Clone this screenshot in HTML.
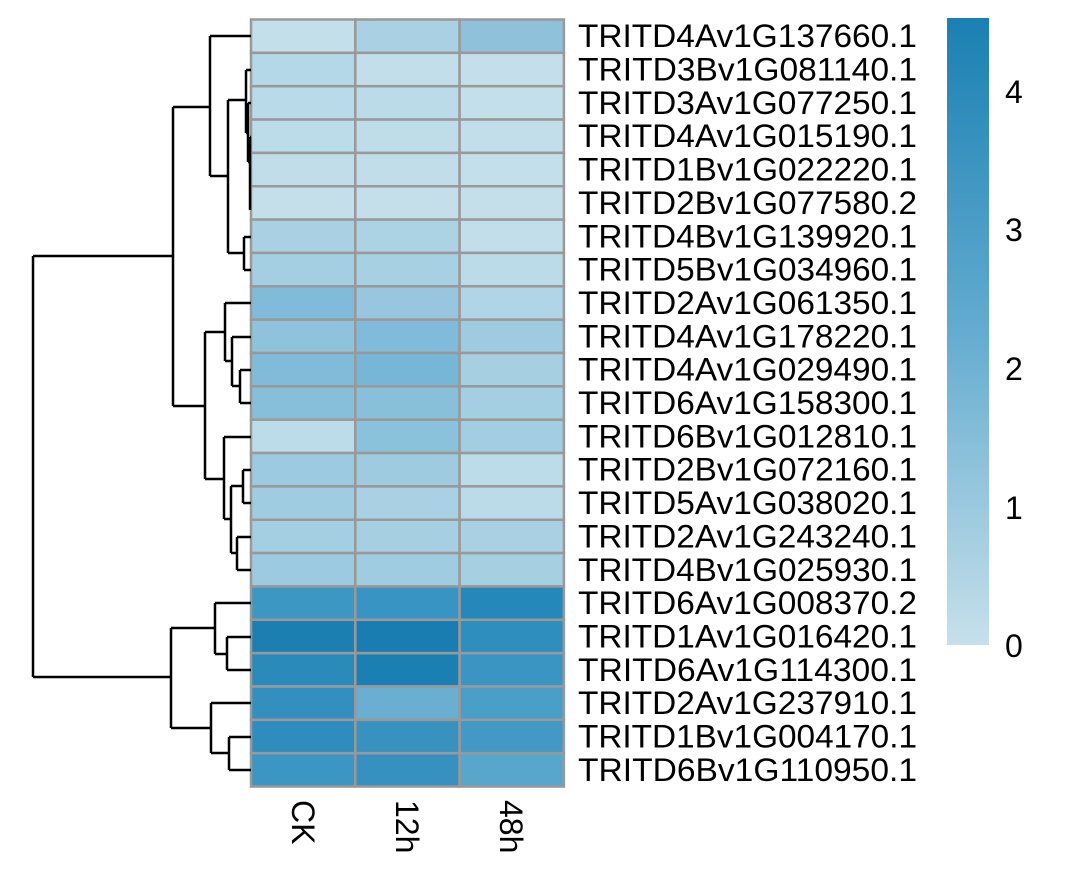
<!DOCTYPE html>
<html><head><style>body{margin:0;background:#fff}svg{display:block}</style></head><body>
<svg width="1066" height="884" xmlns="http://www.w3.org/2000/svg" font-family="Liberation Sans, sans-serif">
<defs><linearGradient id="g" x1="0" y1="1" x2="0" y2="0">
<stop offset="0" stop-color="#c6e0ea"/><stop offset="0.5" stop-color="#64acd0"/><stop offset="1" stop-color="#1a80b2"/></linearGradient></defs>
<g id="cells" stroke="#999" stroke-width="2.5"></g>
<g id="labels" font-size="32"></g>
<g stroke="#000" stroke-width="2.5" fill="none">
<path d="M33,256 V677 M33,256 H173 M33,677 H171"/>
<path d="M173,107 V406 M173,107 H210 M173,406 H205"/>
<path d="M210,36 V176 M210,36 H251 M210,176 H228"/>
<path d="M228,100 V253 M228,100 H246 M228,253 H244"/>
<path d="M246,70 V133 M246,70 H251 M246,133 H248 M248,103 V162 M248,103 H251 M248,162 H250 M250,137 V210 M250,137 H251"/>
<path d="M244,237 V270 M244,237 H251 M244,270 H251"/>
<path d="M205,332 V479 M205,332 H225 M205,479 H224"/>
<path d="M225,303 V361 M225,303 H251 M225,361 H232"/>
<path d="M232,337 V386 M232,337 H251 M232,386 H240"/>
<path d="M240,370 V403 M240,370 H251 M240,403 H251"/>
<path d="M224,437 V519 M224,437 H251 M224,519 H231"/>
<path d="M231,486 V553 M231,486 H243 M231,553 H237"/>
<path d="M243,470 V503 M243,470 H251 M243,503 H251"/>
<path d="M237,537 V570 M237,537 H251 M237,570 H251"/>
<path d="M171,628 V728 M171,628 H215 M171,728 H211"/>
<path d="M215,603 V654 M215,603 H251 M215,654 H227"/>
<path d="M227,637 V670 M227,637 H251 M227,670 H251"/>
<path d="M211,703 V753 M211,703 H251 M211,753 H229"/>
<path d="M229,737 V770 M229,737 H251 M229,770 H251"/>
</g>
<rect x="947" y="18" width="42" height="627" fill="url(#g)"/>
<g font-size="32" fill="#000">
<text x="1005" y="103">4</text><text x="1005" y="241">3</text><text x="1005" y="380">2</text><text x="1005" y="519">1</text><text x="1005" y="657">0</text>
<text transform="translate(292,800) rotate(90)">CK</text>
<text transform="translate(396,800) rotate(90)">12h</text>
<text transform="translate(500,800) rotate(90)">48h</text>
</g>
<script>
var C=[["#c2dfea","#a9d1e3","#8fc2da"],["#b4d8e7","#c1deea","#c4dfea"],["#b9dae8","#bcdbe9","#c3dfea"],["#bcdce9","#bfdde9","#c2deea"],["#c0dde9","#c0dde9","#c3dfea"],["#c4dfea","#c4dfea","#c4dfea"],["#a9d1e3","#acd3e4","#c2deea"],["#a4cfe2","#a7d0e3","#bcdbe8"],["#80bcd9","#97c6de","#b0d5e6"],["#8fc3dc","#80bcd9","#9fcbe0"],["#80bcd9","#76b6d6","#a6cfe2"],["#87bfda","#88c0da","#a4cee2"],["#bcdce9","#8ac1db","#a3cde1"],["#9ccae0","#9fcbe0","#bddce9"],["#a0cce1","#a9d1e3","#bcdbe8"],["#a4cee2","#a6cfe2","#a9d1e3"],["#9ccae0","#a0cce1","#a6cfe2"],["#3c97c3","#3894c2","#2489ba"],["#1c7fb2","#1a7db1","#2e8ebd"],["#2a8bbb","#1a80b3","#3a95c2"],["#338fbf","#6aafd2","#4a9fc9"],["#2f8dbd","#3892c0","#4299c5"],["#3c96c3","#3691c0","#58a6cc"]];
var L=["TRITD4Av1G137660.1","TRITD3Bv1G081140.1","TRITD3Av1G077250.1","TRITD4Av1G015190.1","TRITD1Bv1G022220.1","TRITD2Bv1G077580.2","TRITD4Bv1G139920.1","TRITD5Bv1G034960.1","TRITD2Av1G061350.1","TRITD4Av1G178220.1","TRITD4Av1G029490.1","TRITD6Av1G158300.1","TRITD6Bv1G012810.1","TRITD2Bv1G072160.1","TRITD5Av1G038020.1","TRITD2Av1G243240.1","TRITD4Bv1G025930.1","TRITD6Av1G008370.2","TRITD1Av1G016420.1","TRITD6Av1G114300.1","TRITD2Av1G237910.1","TRITD1Bv1G004170.1","TRITD6Bv1G110950.1"];
var ns="http://www.w3.org/2000/svg",g=document.getElementById("cells"),t=document.getElementById("labels");
var x0=251,cw=104.3,y0=19.5,rh=33.35;
for(var i=0;i<23;i++){for(var j=0;j<3;j++){var r=document.createElementNS(ns,"rect");r.setAttribute("x",x0+j*cw);r.setAttribute("y",y0+i*rh);r.setAttribute("width",cw);r.setAttribute("height",rh);r.setAttribute("fill",C[i][j]);g.appendChild(r);}
var e=document.createElementNS(ns,"text");e.setAttribute("x",578);e.setAttribute("y",y0+i*rh+rh/2+11);e.setAttribute("textLength",339);e.setAttribute("lengthAdjust","spacingAndGlyphs");e.textContent=L[i];t.appendChild(e);}
</script>
</svg>
</body></html>
